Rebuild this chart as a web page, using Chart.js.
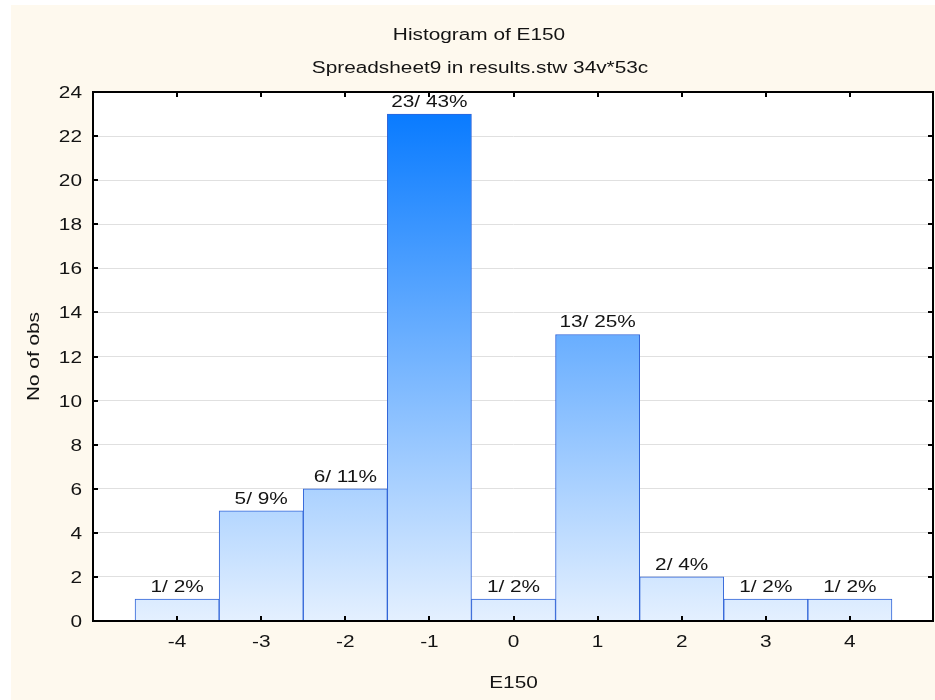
<!DOCTYPE html>
<html>
<head>
<meta charset="utf-8">
<title>Histogram of E150</title>
<script src="https://cdn.jsdelivr.net/npm/chart.js@4/dist/chart.umd.min.js"></script>
<style>
  html, body { margin: 0; padding: 0; background: #ffffff; }
  #wrap { width: 935px; height: 700px; }
</style>
</head>
<body>
<div id="wrap"><canvas id="hist" width="935" height="700"></canvas></div>
<script>
// Histogram bins (class centres) and the number of observations in each
const bins = [-4, -3, -2, -1, 0, 1, 2, 3, 4];
const counts = [1, 5, 6, 23, 1, 13, 2, 1, 1];
const xTickLabels = ['-4', '-3', '-2', '-1', '0', '1', '2', '3', '4'];
const yTickValues = [0, 2, 4, 6, 8, 10, 12, 14, 16, 18, 20, 22, 24];

const titleText = 'Histogram of E150';
const subtitleText = 'Spreadsheet9 in results.stw 34v*53c';
const xTitle = 'E150';
const yTitle = 'No of obs';

const total = counts.reduce((a, b) => a + b, 0);
const barLabels = counts.map(c => c + '/ ' + Math.round(c / total * 100) + '%');

const FONT = '16px "Liberation Sans", Arial, sans-serif';
const STRETCH = 1.3;   // the typeface is drawn wide

function wideText(ctx, text, x, y, align, rotate) {
  ctx.save();
  ctx.translate(x, y);
  if (rotate) ctx.rotate(-Math.PI / 2);
  ctx.scale(STRETCH, 1);
  ctx.font = FONT;
  ctx.fillStyle = '#141414';
  ctx.textAlign = align;
  ctx.textBaseline = 'alphabetic';
  ctx.fillText(text, 0, 0);
  ctx.restore();
}

// Page background, titles, frame, inward ticks, tick labels and bar labels
const decor = {
  id: 'decor',
  beforeDraw(chart) {
    const { ctx, chartArea: a } = chart;
    ctx.save();
    ctx.fillStyle = '#ffffff';
    ctx.fillRect(0, 0, chart.width, chart.height);
    ctx.fillStyle = '#fef9ee';
    ctx.fillRect(11, 5, chart.width - 11, chart.height - 5);
    ctx.fillStyle = '#ffffff';
    ctx.fillRect(a.left, a.top, a.right - a.left, a.bottom - a.top);
    ctx.restore();
  },
  afterDatasetsDraw(chart) {
    const { ctx, chartArea: a } = chart;
    const xs = chart.scales.x, ys = chart.scales.y;

    // bar value labels
    const meta = chart.getDatasetMeta(0);
    meta.data.forEach((bar, i) => {
      wideText(ctx, barLabels[i], bar.x, bar.y - 7, 'center');
    });

    // frame
    ctx.save();
    ctx.strokeStyle = '#000000';
    ctx.lineWidth = 2;
    ctx.strokeRect(a.left, a.top, a.right - a.left - 1, a.bottom - a.top);

    // inward ticks on all four sides
    ctx.beginPath();
    bins.forEach(v => {
      const px = Math.round(xs.getPixelForValue(v));
      ctx.moveTo(px, a.bottom); ctx.lineTo(px, a.bottom - 5);
      ctx.moveTo(px, a.top); ctx.lineTo(px, a.top + 5);
    });
    yTickValues.forEach(v => {
      const py = Math.round(ys.getPixelForValue(v));
      ctx.moveTo(a.left, py); ctx.lineTo(a.left + 5, py);
      ctx.moveTo(a.right - 1, py); ctx.lineTo(a.right - 6, py);
    });
    ctx.stroke();
    ctx.restore();

    // tick labels
    bins.forEach((v, i) => {
      wideText(ctx, xTickLabels[i], xs.getPixelForValue(v), 647, 'center');
    });
    yTickValues.forEach(v => {
      wideText(ctx, String(v), 82, ys.getPixelForValue(v) + 6, 'right');
    });

    // titles
    const cx = (a.left + a.right) / 2;
    wideText(ctx, titleText, 479, 40, 'center');
    wideText(ctx, subtitleText, 480, 73, 'center');
    wideText(ctx, xTitle, cx, 688, 'center');
    wideText(ctx, yTitle, 39, (a.top + a.bottom) / 2, 'center', true);
  }
};

new Chart(document.getElementById('hist'), {
  type: 'bar',
  data: {
    datasets: [{
      data: bins.map((b, i) => ({ x: b, y: counts[i] })),
      backgroundColor(c) {
        const area = c.chart.chartArea;
        if (!area) return '#6aaefc';
        const g = c.chart.ctx.createLinearGradient(0, area.top, 0, area.bottom);
        g.addColorStop(0, '#0076ff');
        g.addColorStop(1, '#e4f0ff');
        return g;
      },
      borderColor: '#3064d8',
      borderWidth: 1,
      barPercentage: 1,
      categoryPercentage: 1
    }]
  },
  options: {
    responsive: false,
    animation: false,
    events: [],
    layout: { padding: { left: 0, top: 92, right: 1, bottom: 0 } },
    plugins: { legend: { display: false }, title: { display: false }, tooltip: { enabled: false } },
    scales: {
      x: {
        type: 'linear', min: -5, max: 5, offset: false,
        ticks: { display: false, stepSize: 1 },
        grid: { display: false, drawTicks: false },
        border: { display: false },
        afterFit(s) { s.height = 79; }
      },
      y: {
        min: 0, max: 24,
        ticks: { display: false, stepSize: 2 },
        grid: { color: '#e0e0e0', lineWidth: 1, drawTicks: false },
        border: { display: false },
        afterFit(s) { s.width = 93; }
      }
    }
  },
  plugins: [decor]
});
</script>
</body>
</html>
